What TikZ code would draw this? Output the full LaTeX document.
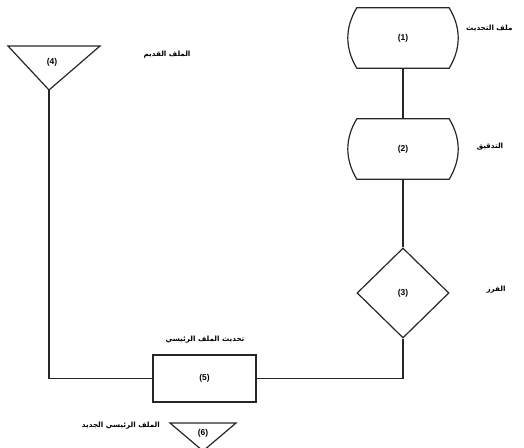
\documentclass[tikz,border=0pt]{standalone}
\usepackage{fontspec}
\setmainfont{Liberation Sans}
\newfontfamily\arabicfont[Script=Arabic]{DejaVu Sans}
\TeXXeTstate=1
\usetikzlibrary{shapes.geometric}
\begin{document}
\begin{tikzpicture}[x=1pt,y=1pt,
 shp/.style={draw=black!85, line width=1.2pt},
 num/.style={font=\bfseries\fontsize{8.5}{9}\selectfont},
 lbl/.style={font=\arabicfont\bfseries\fontsize{7.2}{8}\selectfont, inner sep=0},
 conn/.style={draw=black!85, line width=1.2pt}]
\useasboundingbox (0,0) rectangle (524,447);
% (1) and (2)
\node[num, minimum width=92pt, minimum height=60pt, inner sep=0] (n1) at (403,409) {(1)};
\draw[shp] (n1.north west) -- (n1.north east) .. controls +(12,-20) and +(12,20) .. (n1.south east) -- (n1.south west) .. controls +(-12,20) and +(-12,-20) .. (n1.north west) -- cycle;
\node[num, minimum width=92pt, minimum height=60pt, inner sep=0] (n2) at (403,298) {(2)};
\draw[shp] (n2.north west) -- (n2.north east) .. controls +(12,-20) and +(12,20) .. (n2.south east) -- (n2.south west) .. controls +(-12,20) and +(-12,-20) .. (n2.north west) -- cycle;
% (3)
\node[shp, diamond, num, minimum width=92pt, minimum height=90pt, inner sep=0] (n3) at (403,154) {(3)};
% (5)
\node[shp, num, minimum width=103pt, minimum height=47pt] (n5) at (204.5,68.5) {(5)};
% (4)
\draw[shp] (8,401) -- (100,401) -- (49,357) -- cycle;
\coordinate (t4) at (49,357);
\node[num] (n4) at (52,385) {(4)};
% (6)
\draw[shp] (170,24) -- (236,24) -- (203,-4) -- cycle;
\node[num] (n6) at (203,14) {(6)};
% connectors
\draw[conn] (n1.south) -- (n2.north);
\draw[conn] (n2.south) -- (n3.north);
\draw[conn] (n3.south) |- (n5.east);
\draw[conn] (n5.west) -| (t4);
% labels
\node[lbl, anchor=west] (l1) at (466,419) {\beginR ملف التحديث\endR};
\node[lbl] (l2) at (490,300) {\beginR التدقيق\endR};
\node[lbl] (l3) at (496,157) {\beginR الفرز\endR};
\node[lbl] (l4) at (167,392) {\beginR الملف القديم\endR};
\node[lbl] (l5) at (205,107) {\beginR تحديث الملف الرئيسي\endR};
\node[lbl, anchor=east] (l6) at (160,21) {\beginR الملف الرئيسي الجديد\endR};
\end{tikzpicture}
\end{document}
